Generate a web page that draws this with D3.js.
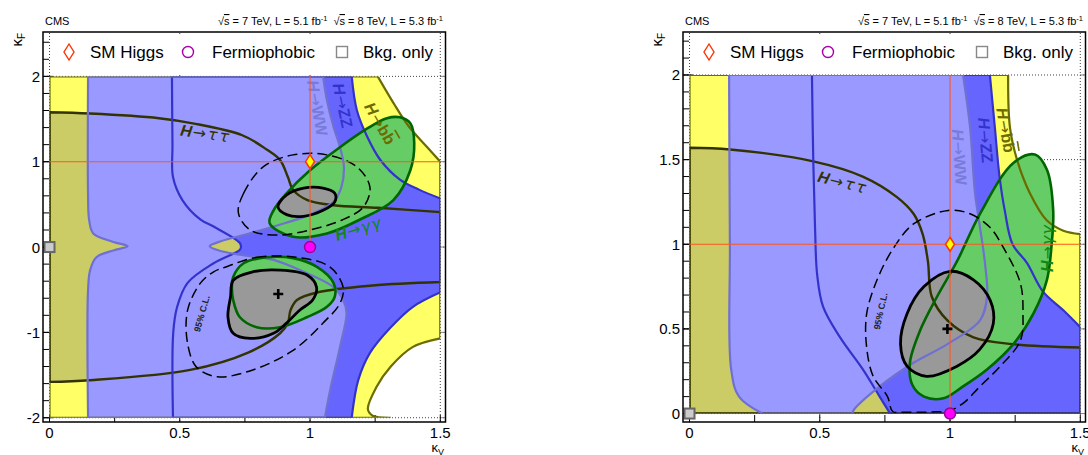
<!DOCTYPE html>
<html><head><meta charset="utf-8">
<script src="https://cdn.jsdelivr.net/npm/d3@7"></script>
<style>body{margin:0;background:#fff} text{font-family:"Liberation Sans",Arial,Helvetica,sans-serif}</style>
</head><body><svg id="c" width="1088" height="455"></svg>
<script>
// ---------- tick labels ----------
const xTicks = [0, 0.5, 1, 1.5];
const xTickLabels = ["0", "0.5", "1", "1.5"];
const xMinorTicks = [0.25, 0.75, 1.25];
const yTicksL = [-2, -1, 0, 1, 2];
const yTickLabelsL = ["-2", "-1", "0", "1", "2"];
const yTicksR = [0, 0.5, 1, 1.5, 2];
const yTickLabelsR = ["0", "0.5", "1", "1.5", "2"];

// ---------- points (kappaV, kappaF) ----------
const smHiggs = [1, 1];
const fermiophobic = [1, 0];
const bkgOnly = [0, 0];
const bestFitL = [0.878, -0.55];
const bestFitR = [0.99, 0.50];

// ---------- LEFT panel contours ----------
const bbUpperL = [[1.5,1.0],[1.45,1.17],[1.38,1.41],[1.32,1.69],[1.26,2.0]];
const bbLowerL = [[1.31,-2.0],[1.24,-1.975],[1.222,-1.90],[1.255,-1.64],[1.31,-1.40],[1.395,-1.17],[1.5,-1.07]];
const ttUpperL = [[0,1.58],[0.155,1.565],[0.42,1.51],[0.55,1.45],[0.74,1.31],[0.835,1.14],[0.885,1.02],[0.915,0.82],[0.935,0.67],[0.99,0.55],[1.09,0.49],[1.26,0.46],[1.5,0.41]];
const ttLowerL = [[1.5,-0.41],[1.24,-0.45],[1.03,-0.53],[0.95,-0.62],[0.925,-0.74],[0.915,-0.89],[0.885,-1.01],[0.76,-1.24],[0.54,-1.44],[0.155,-1.56],[0,-1.58]];
const zzLeftL = [[0.474,-2],[0.475,-1.0],[0.49,-0.7],[0.53,-0.42],[0.63,-0.19],[0.73,-0.035],[0.735,0.0],[0.73,0.05],[0.63,0.24],[0.58,0.32],[0.51,0.55],[0.474,0.82],[0.472,1.2],[0.47,2]];
const zzRightUpperL = [[1.16,2],[1.18,1.6],[1.22,1.29],[1.27,1.02],[1.345,0.79],[1.42,0.67],[1.5,0.57]];
const zzRightLowerL = [[1.5,-0.53],[1.395,-0.70],[1.31,-0.94],[1.23,-1.24],[1.185,-1.56],[1.16,-2.0]];
const wwLeftL = [[0.148,-2],[0.148,-0.5],[0.156,-0.27],[0.18,-0.12],[0.245,-0.04],[0.30,0.01],[0.245,0.06],[0.168,0.16],[0.152,0.32],[0.148,0.6],[0.148,2]];
const wwRightL = [[1.05,2],[1.065,1.72],[1.09,1.41],[1.115,1.17],[1.13,0.94],[1.12,0.70],[1.09,0.53],[1.0,0.38],[0.87,0.25],[0.745,0.14],[0.66,0.07],[0.615,0.01],[0.65,-0.04],[0.73,-0.09],[0.86,-0.15],[0.99,-0.31],[1.09,-0.47],[1.127,-0.62],[1.14,-0.77],[1.115,-1.17],[1.077,-1.68],[1.057,-2]];
const ggUpperL = [[0.845,0.28],[0.86,0.43],[0.91,0.63],[1.0,0.9],[1.115,1.17],[1.22,1.39],[1.295,1.51],[1.345,1.52],[1.385,1.45],[1.40,1.22],[1.385,0.9],[1.32,0.55],[1.19,0.32],[1.065,0.16],[0.935,0.12]];
const ggLowerL = [[0.70,-0.47],[0.705,-0.35],[0.745,-0.19],[0.835,-0.12],[0.935,-0.13],[1.025,-0.23],[1.09,-0.42],[1.095,-0.58],[1.065,-0.70],[0.99,-0.82],[0.885,-0.94],[0.795,-0.94],[0.73,-0.82],[0.705,-0.62]];
const c68UpperL = [[0.877,0.47],[0.91,0.61],[0.975,0.69],[1.05,0.69],[1.095,0.63],[1.095,0.53],[1.05,0.43],[0.975,0.36],[0.91,0.38]];
const c68LowerL = [[0.705,-0.39],[0.78,-0.29],[0.885,-0.27],[0.99,-0.33],[1.025,-0.47],[1.01,-0.62],[0.96,-0.74],[0.91,-0.89],[0.86,-1.01],[0.77,-1.07],[0.705,-1.01],[0.685,-0.82],[0.695,-0.58]];
const c95UpperL = [[0.725,0.40],[0.745,0.63],[0.82,0.94],[0.935,1.08],[1.065,1.08],[1.18,0.94],[1.23,0.70],[1.205,0.47],[1.125,0.32],[1.0,0.20],[0.875,0.14],[0.77,0.20]];
const c95LowerL = [[0.68,-0.23],[0.795,-0.12],[0.95,-0.12],[1.075,-0.23],[1.127,-0.47],[1.115,-0.66],[1.05,-0.89],[0.935,-1.21],[0.78,-1.44],[0.645,-1.52],[0.565,-1.41],[0.53,-1.13],[0.53,-0.74],[0.58,-0.42],[0.63,-0.29]];

// ---------- RIGHT panel contours ----------
const bbUpperR = [[1.5,1.06],[1.435,1.08],[1.372,1.14],[1.307,1.30],[1.257,1.50],[1.23,1.69],[1.223,2.0]];
const ttUpperR = [[0,1.57],[0.155,1.56],[0.475,1.49],[0.665,1.40],[0.795,1.28],[0.86,1.18],[0.895,1.06],[0.915,0.90],[0.93,0.69],[0.99,0.55],[1.09,0.45],[1.24,0.41],[1.5,0.39]];
const zzLeftR = [[0.77,0.0],[0.73,0.10],[0.666,0.26],[0.578,0.45],[0.513,0.63],[0.49,0.82],[0.482,1.09],[0.475,1.5],[0.47,2]];
const zzRightR = [[1.153,2],[1.172,1.69],[1.19,1.40],[1.21,1.20],[1.24,1.0],[1.295,0.89],[1.357,0.72],[1.435,0.61],[1.5,0.51]];
const wwLeftR = [[0.28,0.0],[0.19,0.10],[0.16,0.26],[0.155,1.0],[0.152,2]];
const wwRightR = [[1.05,2],[1.077,1.69],[1.096,1.30],[1.115,1.10],[1.134,0.89],[1.142,0.69],[1.115,0.55],[0.99,0.41],[0.86,0.30],[0.73,0.16],[0.63,0.02],[0.625,0.0]];
const ggR = [[1.326,1.53],[1.372,1.44],[1.396,1.20],[1.39,1.0],[1.372,0.79],[1.32,0.59],[1.243,0.41],[1.142,0.26],[1.05,0.16],[0.975,0.09],[0.90,0.10],[0.855,0.17],[0.846,0.30],[0.885,0.49],[0.95,0.69],[1.027,0.90],[1.115,1.18],[1.243,1.48]];
const c68R = [[1.0,0.84],[1.09,0.79],[1.154,0.67],[1.166,0.53],[1.115,0.38],[1.027,0.28],[0.91,0.22],[0.835,0.28],[0.81,0.41],[0.835,0.59],[0.90,0.75]];
const c95R = [[0.993,1.20],[1.077,1.18],[1.153,1.10],[1.205,0.98],[1.27,0.77],[1.28,0.59],[1.27,0.43],[1.193,0.28],[1.115,0.16],[1.05,0.06],[0.99,0.012],[0.955,0.01],[0.9,0.008],[0.82,0.008],[0.78,0.012],[0.76,0.10],[0.705,0.22],[0.68,0.39],[0.68,0.59],[0.72,0.79],[0.78,0.97],[0.86,1.12]];

// ---------- styles ----------
const C = {
  yellow:"#ffff66", olive:"#cccc66", ww:"#9999ff", zz:"#6666ff", gg:"#66cc66", gray:"#999999",
  bbLine:"#6b6b00", ttLine:"#333300", zzLine:"#3333cc", wwLine:"#7070d0", ggLine:"#006600"
};

const panels = [
  { ox:0, yDom:[-2.05,2.52], yMin:-2, yTicks:yTicksL, yLabels:yTickLabelsL, yMinor:0.2,
    yellow:[{c:0,p:[[1.26,2],[0,2],[0,-2],[1.31,-2]]},{c:1,p:bbLowerL},{c:0,p:[[1.5,-1.07],[1.5,1.0]]},{c:1,p:bbUpperL}],
    tt:[{c:1,p:ttUpperL},{c:0,p:[[1.5,0.41],[1.5,-0.41]]},{c:1,p:ttLowerL},{c:0,p:[[0,-1.58],[0,1.58]]}],
    zz:[{c:0,p:[[0.47,2],[1.16,2]]},{c:1,p:zzRightUpperL},{c:0,p:[[1.5,0.57],[1.5,-0.53]]},{c:1,p:zzRightLowerL},{c:0,p:[[1.16,-2],[0.474,-2]]},{c:1,p:zzLeftL}],
    ww:[{c:0,p:[[0.148,2],[1.05,2]]},{c:1,p:wwRightL},{c:0,p:[[1.057,-2],[0.148,-2]]},{c:1,p:wwLeftL}],
    gg:[ggUpperL, ggLowerL], c68:[c68UpperL, c68LowerL], c95:[c95UpperL, c95LowerL], best:bestFitL,
    labels:[
      {t:"tt", at:[0.60,1.336], r:8, col:C.ttLine},
      {t:"WW", at:[1.03,1.63], r:80, col:"#7a7ad8"},
      {t:"ZZ", at:[1.127,1.66], r:78, col:C.zzLine},
      {t:"bb", at:[1.27,1.45], r:60, col:C.bbLine},
      {t:"gg", at:[1.185,0.22], r:-17, col:"#118811"},
      {t:"cl", at:[0.585,-0.78], r:-74, col:"#222"}
    ]},
  { ox:640, yDom:[-0.05,2.254], yMin:0, yTicks:yTicksR, yLabels:yTickLabelsR, yMinor:0.1,
    yellow:[{c:0,p:[[1.223,2],[0,2],[0,0],[1.5,0],[1.5,1.06]]},{c:1,p:bbUpperR}],
    tt:[{c:1,p:ttUpperR},{c:0,p:[[1.5,0.39],[1.5,0],[0,0],[0,1.57]]}],
    zz:[{c:0,p:[[0.47,2],[1.153,2]]},{c:1,p:zzRightR},{c:0,p:[[1.5,0.51],[1.5,0],[0.77,0]]},{c:1,p:zzLeftR}],
    ww:[{c:0,p:[[0.152,2],[1.05,2]]},{c:1,p:wwRightR},{c:0,p:[[0.625,0],[0.28,0]]},{c:1,p:wwLeftR}],
    gg:[ggR], c68:[c68R], c95:[c95R], best:bestFitR,
    labels:[
      {t:"tt", at:[0.589,1.368], r:14, col:C.ttLine},
      {t:"WW", at:[1.038,1.515], r:86, col:"#7a7ad8"},
      {t:"ZZ", at:[1.138,1.615], r:85, col:C.zzLine},
      {t:"bb", at:[1.215,1.675], r:80, col:C.bbLine},
      {t:"gg", at:[1.372,0.977], r:-90, col:"#118811"},
      {t:"cl", at:[0.734,0.605], r:-78, col:"#222"}
    ]}
];

const svg = d3.select("#c");
const defs = svg.append("defs");
const GREEK = "'DejaVu Sans', sans-serif";

panels.forEach((P, i) => {
  const x = d3.scaleLinear().domain([-0.025, 1.52]).range([P.ox + 43, P.ox + 445.5]);
  const y = d3.scaleLinear().domain(P.yDom).range([422, 32]);
  const lin = d3.line().x(d => x(d[0])).y(d => y(d[1]));
  const cur = d3.line().x(d => x(d[0])).y(d => y(d[1])).curve(d3.curveCatmullRom.alpha(0.5));
  const closed = d3.line().x(d => x(d[0])).y(d => y(d[1])).curve(d3.curveCatmullRomClosed.alpha(0.5));
  const region = segs => segs.map((s, k) => {
    const d = (s.c ? cur : lin)(s.p);
    return k ? d.replace(/^M/, "L") : d;
  }).join("") + "Z";

  const cid = "clip" + i;
  defs.append("clipPath").attr("id", cid).append("rect")
    .attr("x", x(0)).attr("y", y(2)).attr("width", x(1.5) - x(0)).attr("height", y(P.yMin) - y(2));

  const g = svg.append("g");
  // dotted grid
  xTicks.forEach(t => g.append("line").attr("x1", x(t)).attr("x2", x(t)).attr("y1", 33).attr("y2", 421)
    .attr("stroke", "#444").attr("stroke-width", 1).attr("stroke-dasharray", "1,2"));
  P.yTicks.forEach(t => g.append("line").attr("x1", P.ox + 44).attr("x2", P.ox + 445).attr("y1", y(t)).attr("y2", y(t))
    .attr("stroke", "#444").attr("stroke-width", 1).attr("stroke-dasharray", "1,2"));
  // legend background
  g.append("rect").attr("x", P.ox + 53).attr("y", 35).attr("width", 383).attr("height", 38).attr("fill", "#fff");

  // ticks
  const ax = g.append("g").attr("stroke", "#000").attr("stroke-width", 1);
  xTicks.concat(xMinorTicks).forEach(t => ax.append("line").attr("x1", x(t)).attr("x2", x(t)).attr("y1", 422).attr("y2", 415));
  P.yTicks.forEach(t => {
    ax.append("line").attr("x1", P.ox + 43).attr("x2", P.ox + 53).attr("y1", y(t)).attr("y2", y(t));
    ax.append("line").attr("x1", P.ox + 445.5).attr("x2", P.ox + 441).attr("y1", y(t)).attr("y2", y(t)).attr("stroke", "#888");
  });
  d3.range(P.yMin, P.yDom[1], P.yMinor).forEach(t => ax.append("line")
    .attr("x1", P.ox + 43).attr("x2", P.ox + 49).attr("y1", y(t)).attr("y2", y(t)));

  // fills
  const f = svg.append("g").attr("clip-path", `url(#${cid})`);
  f.append("path").attr("d", region(P.yellow)).attr("fill", C.yellow);
  f.append("path").attr("d", region(P.tt)).attr("fill", C.olive);
  f.append("path").attr("d", region(P.zz)).attr("fill", C.zz);
  f.append("path").attr("d", region(P.ww)).attr("fill", C.ww);
  P.gg.forEach(p => f.append("path").attr("d", closed(p)).attr("fill", C.gg));
  P.c68.forEach(p => f.append("path").attr("d", closed(p)).attr("fill", C.gray));
  // outlines
  f.append("path").attr("d", region(P.yellow)).attr("fill", "none").attr("stroke", C.bbLine).attr("stroke-width", 2.2);
  f.append("path").attr("d", region(P.tt)).attr("fill", "none").attr("stroke", C.ttLine).attr("stroke-width", 2.4);
  f.append("path").attr("d", region(P.zz)).attr("fill", "none").attr("stroke", C.zzLine).attr("stroke-width", 2.2);
  f.append("path").attr("d", region(P.ww)).attr("fill", "none").attr("stroke", C.wwLine).attr("stroke-width", 2.2);
  P.gg.forEach(p => f.append("path").attr("d", closed(p)).attr("fill", "none").attr("stroke", C.ggLine).attr("stroke-width", 2.6));
  P.c68.forEach(p => f.append("path").attr("d", closed(p)).attr("fill", "none").attr("stroke", "#000").attr("stroke-width", 2.8));
  P.c95.forEach(p => f.append("path").attr("d", closed(p)).attr("fill", "none").attr("stroke", "#000").attr("stroke-width", 1.5).attr("stroke-dasharray", "10,5"));

  // labels
  P.labels.forEach(L => {
    const t = svg.append("text").attr("transform", `translate(${x(L.at[0])},${y(L.at[1])}) rotate(${L.r})`)
      .attr("text-anchor", "middle").attr("dominant-baseline", "central").attr("fill", L.col);
    if (L.t === "cl") {
      t.attr("font-size", 9).attr("font-weight", "bold").text("95% C.L.");
      return;
    }
    t.attr("font-size", 16).attr("font-weight", "bold");
    t.append("tspan").attr("font-style", "italic").text("H");
    t.append("tspan").attr("font-weight", "normal").attr("font-family", GREEK).attr("dx", 1).text("\u2192");
    if (L.t === "tt") t.append("tspan").attr("font-family", GREEK).attr("font-weight", "normal").attr("font-style", "italic").attr("letter-spacing", 2).attr("dx", 2).text("\u03c4\u03c4");
    if (L.t === "gg") t.append("tspan").attr("font-family", GREEK).attr("font-weight", "normal").attr("font-style", "italic").attr("letter-spacing", 1).attr("dx", 1).text("\u03b3\u03b3");
    if (L.t === "WW") t.append("tspan").text("WW");
    if (L.t === "ZZ") t.append("tspan").text("ZZ");
    if (L.t === "bb") { t.append("tspan").text("b"); t.append("tspan").attr("text-decoration", "overline").text("b"); }
  });

  // SM crosshair
  const ch = svg.append("g").attr("stroke", "#ff5522").attr("stroke-width", 1.1);
  ch.append("line").attr("x1", x(0)).attr("x2", x(1.5)).attr("y1", y(smHiggs[1])).attr("y2", y(smHiggs[1]));
  ch.append("line").attr("x1", x(smHiggs[0])).attr("x2", x(smHiggs[0])).attr("y1", y(2)).attr("y2", y(fermiophobic[1]));

  // best fit cross
  const bx = x(P.best[0]), by = y(P.best[1]);
  svg.append("path").attr("d", `M${bx-5},${by}H${bx+5}M${bx},${by-5}V${by+5}`).attr("stroke", "#000").attr("stroke-width", 2.6);

  // markers
  const dx = x(smHiggs[0]), dy = y(smHiggs[1]);
  svg.append("path").attr("d", `M${dx},${dy-7}L${dx+4.5},${dy}L${dx},${dy+7}L${dx-4.5},${dy}Z`)
    .attr("fill", "#ffff00").attr("stroke", "#ff3300").attr("stroke-width", 1.5);
  svg.append("circle").attr("cx", x(fermiophobic[0])).attr("cy", y(fermiophobic[1])).attr("r", 5.5)
    .attr("fill", "#ff00ff").attr("stroke", "#990099").attr("stroke-width", 1.5);
  svg.append("rect").attr("x", x(bkgOnly[0]) - 5).attr("y", y(bkgOnly[1]) - 5).attr("width", 10).attr("height", 10)
    .attr("fill", "#cccccc").attr("stroke", "#666").attr("stroke-width", 2);

  // frame
  svg.append("rect").attr("x", P.ox + 43).attr("y", 32).attr("width", 402.5).attr("height", 390)
    .attr("fill", "none").attr("stroke", "#000").attr("stroke-width", 1.5);

  // tick labels
  xTicks.forEach((t, k) => svg.append("text").attr("x", x(t)).attr("y", 438).attr("text-anchor", "middle")
    .attr("font-size", 15).text(xTickLabels[k]));
  P.yTicks.forEach((t, k) => svg.append("text").attr("x", P.ox + 40).attr("y", y(t) + 5.5).attr("text-anchor", "end")
    .attr("font-size", 15).text(P.yLabels[k]));

  // axis titles
  const kv = svg.append("text").attr("x", P.ox + 444).attr("y", 452).attr("text-anchor", "end").attr("font-size", 13);
  kv.append("tspan").text("\u03ba");
  kv.append("tspan").attr("font-size", 9).attr("dy", 2.5).text("V");
  const kf = svg.append("text").attr("transform", `translate(${P.ox + 22},33) rotate(-90)`).attr("text-anchor", "end").attr("font-size", 15);
  kf.append("tspan").text("\u03ba");
  kf.append("tspan").attr("font-size", 10).attr("dy", 3).text("F");

  // header
  svg.append("text").attr("x", P.ox + 45).attr("y", 25).attr("font-size", 11).text("CMS");
  const hd = svg.append("text").attr("x", P.ox + 443).attr("y", 25).attr("text-anchor", "end").attr("font-size", 11);
  [["7","5.1"],["8","5.3"]].forEach((e, k) => {
    hd.append("tspan").attr("dx", k ? 6 : 0).attr("dy", k ? 4 : 0).text("\u221a");
    hd.append("tspan").attr("text-decoration", "overline").text("s");
    hd.append("tspan").text(` = ${e[0]} TeV, L = ${e[1]} fb`);
    hd.append("tspan").attr("font-size", 7.5).attr("dy", -4).text("-1");
  });

  // legend
  const ly = 52;
  svg.append("path").attr("d", `M${P.ox+69},${ly-8}L${P.ox+74},${ly}L${P.ox+69},${ly+8}L${P.ox+64},${ly}Z`)
    .attr("fill", "none").attr("stroke", "#ff3300").attr("stroke-width", 1.4);
  svg.append("text").attr("x", P.ox + 90).attr("y", ly + 6).attr("font-size", 17).text("SM Higgs");
  svg.append("circle").attr("cx", P.ox + 188).attr("cy", ly).attr("r", 5.5).attr("fill", "none").attr("stroke", "#aa00aa").attr("stroke-width", 1.4);
  svg.append("text").attr("x", P.ox + 212).attr("y", ly + 6).attr("font-size", 17).text("Fermiophobic");
  svg.append("rect").attr("x", P.ox + 336.5).attr("y", ly - 5.5).attr("width", 11).attr("height", 11).attr("fill", "#fff").attr("stroke", "#888").attr("stroke-width", 1.4);
  svg.append("text").attr("x", P.ox + 363).attr("y", ly + 6).attr("font-size", 17).text("Bkg. only");
});
</script></body></html>
